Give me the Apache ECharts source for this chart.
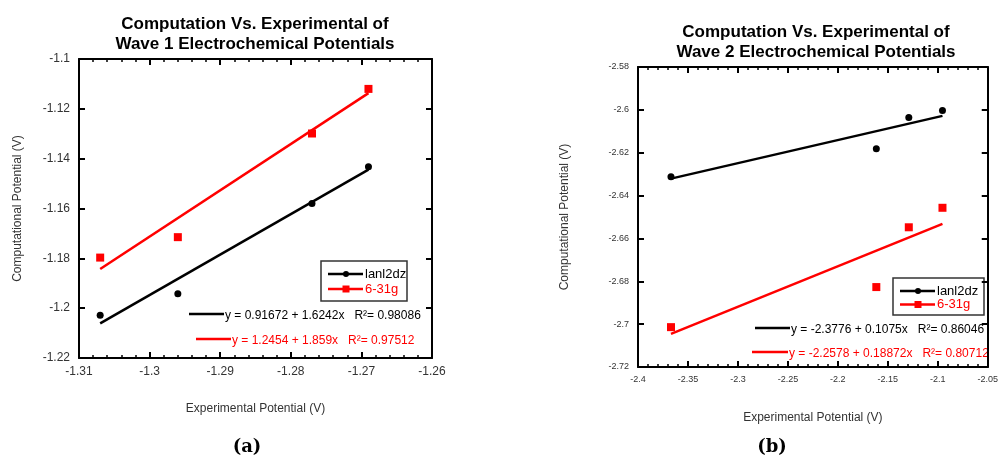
<!DOCTYPE html>
<html>
<head>
<meta charset="utf-8">
<script src="https://cdn.jsdelivr.net/npm/echarts@6/dist/echarts.min.js"></script>
<style>
  html, body { margin: 0; padding: 0; background: #fff; }
  #main { width: 1001px; height: 465px; }
</style>
</head>
<body>
<div id="main"></div>
<script>
// wave 1 data (panel a)
var wave1X = [-1.307, -1.296, -1.277, -1.269];
var wave1Lanl = [-1.2028, -1.1942, -1.158, -1.1432];
var wave1G631 = [-1.1797, -1.1715, -1.1299, -1.112];
var wave1FitX = [-1.307, -1.269];
var wave1FitLanl = [-1.2061, -1.1444];
var wave1FitG631 = [-1.1843, -1.1137];

// wave 2 data (panel b)
var wave2X = [-2.367, -2.1615, -2.129, -2.0953];
var wave2Lanl = [-2.6312, -2.6182, -2.6036, -2.6003];
var wave2G631 = [-2.7014, -2.6827, -2.6548, -2.6457];
var wave2FitX = [-2.367, -2.0953];
var wave2FitLanl = [-2.6321, -2.6028];
var wave2FitG631 = [-2.7045, -2.6532];

var eqText1 = ['y = 0.91672 + 1.6242x   R\u00b2= 0.98086', 'y = 1.2454 + 1.859x   R\u00b2= 0.97512'];
var eqText2 = ['y = -2.3776 + 0.1075x   R\u00b2= 0.86046', 'y = -2.2578 + 0.18872x   R\u00b2= 0.80712'];

var RED = '#ff0000';
var FONT = 'Liberation Sans, Arial, sans-serif';

function pairs(xs, ys) {
    var out = [];
    for (var i = 0; i < xs.length; i++) out.push([xs[i], ys[i]]);
    return out;
}

// x axis: bottom with labels, top with ticks only
function xAxes(grid, min, max, interval, fontSize) {
    var base = {
        gridIndex: grid, type: 'value', min: min, max: max, interval: interval,
        axisLine: { show: true, onZero: false, lineStyle: { color: '#000', width: 2 } },
        axisTick: { show: true, inside: true, length: 6, lineStyle: { color: '#000', width: 2 } },
        minorTick: { show: true, splitNumber: 5, length: 3, lineStyle: { color: '#000', width: 1.5 } },
        splitLine: { show: false }
    };
    var bottom = Object.assign({}, base, {
        position: 'bottom',
        name: 'Experimental Potential (V)', nameLocation: 'middle', nameGap: 45,
        nameTextStyle: { color: '#333', fontSize: 12, fontFamily: FONT },
        axisLabel: { color: '#333', fontSize: fontSize, fontFamily: FONT, margin: 8 }
    });
    var top = Object.assign({}, base, { position: 'top', axisLabel: { show: false } });
    return [bottom, top];
}

function yAxes(grid, min, max, interval, fontSize, nameGap) {
    var base = {
        gridIndex: grid, type: 'value', min: min, max: max, interval: interval,
        axisLine: { show: true, onZero: false, lineStyle: { color: '#000', width: 2 } },
        axisTick: { show: true, inside: true, length: 6, lineStyle: { color: '#000', width: 2 } },
        splitLine: { show: false }
    };
    var left = Object.assign({}, base, {
        position: 'left',
        name: 'Computational Potential (V)', nameLocation: 'middle', nameGap: nameGap,
        nameTextStyle: { color: '#333', fontSize: 12, fontFamily: FONT },
        axisLabel: { color: '#333', fontSize: fontSize, fontFamily: FONT, margin: 9 }
    });
    var right = Object.assign({}, base, { position: 'right', axisLabel: { show: false } });
    return [left, right];
}

function scatter(name, data, xi, yi, color, symbol, size) {
    return {
        name: name, type: 'scatter', xAxisIndex: xi, yAxisIndex: yi,
        data: data, symbol: symbol, symbolSize: size,
        itemStyle: { color: color, opacity: 1 }, z: 5
    };
}

function fit(data, xi, yi, color) {
    return {
        type: 'line', xAxisIndex: xi, yAxisIndex: yi, data: data,
        showSymbol: false, silent: true,
        lineStyle: { color: color, width: 2.5 }, z: 4
    };
}

// legend box + regression keys, drawn as plain graphics
function legendBox(x, y, w, h, rowGap) {
    var els = [{
        type: 'rect', shape: { x: x, y: y, width: w, height: h },
        style: { fill: '#fff', stroke: '#333', lineWidth: 1.5 }
    }];
    var names = ['lanl2dz', '6-31g'];
    var colors = ['#000', RED];
    for (var i = 0; i < 2; i++) {
        var cy = y + 13 + i * rowGap;
        els.push({ type: 'line', shape: { x1: x + 7, y1: cy, x2: x + 42, y2: cy },
            style: { stroke: colors[i], lineWidth: 2.5 } });
        if (i === 0) {
            els.push({ type: 'circle', shape: { cx: x + 25, cy: cy, r: 3 }, style: { fill: colors[i] } });
        } else {
            els.push({ type: 'rect', shape: { x: x + 21.5, y: cy - 3.5, width: 7, height: 7 }, style: { fill: colors[i] } });
        }
        els.push({ type: 'text', x: x + 44, y: cy,
            style: { text: names[i], fill: colors[i], font: '13px ' + FONT, textVerticalAlign: 'middle' } });
    }
    return els;
}

function eqKey(x1, x2, y, text, color) {
    return [
        { type: 'line', shape: { x1: x1, y1: y, x2: x2, y2: y }, style: { stroke: color, lineWidth: 2.5 } },
        { type: 'text', x: x2 + 1, y: y + 2,
            style: { text: text, fill: color, font: '12px ' + FONT, textVerticalAlign: 'middle' } }
    ];
}

var chart = echarts.init(document.getElementById('main'));

var graphics = []
    .concat(legendBox(321, 261, 86, 40, 15))
    .concat(eqKey(189, 224, 314, eqText1[0], '#000'))
    .concat(eqKey(196, 231, 339, eqText1[1], RED))
    .concat(legendBox(893, 278, 91, 37, 13.5))
    .concat(eqKey(755, 790, 328, eqText2[0], '#000'))
    .concat(eqKey(752, 788, 352, eqText2[1], RED))
    .concat([
        { type: 'text', x: 247, y: 447, style: { text: '(a)', fill: '#000', font: 'bold 18px DejaVu Serif, serif', textAlign: 'center', textVerticalAlign: 'middle' } },
        { type: 'text', x: 772, y: 447, style: { text: '(b)', fill: '#000', font: 'bold 18px DejaVu Serif, serif', textAlign: 'center', textVerticalAlign: 'middle' } }
    ]);

var xa = xAxes(0, -1.31, -1.26, 0.01, 12);
var xb = xAxes(1, -2.4, -2.05, 0.05, 9);
var ya = yAxes(0, -1.22, -1.1, 0.02, 12, 55);
var yb = yAxes(1, -2.72, -2.58, 0.02, 9, 67);

var option = {
    backgroundColor: '#fff',
    animation: false,
    title: [
        { text: 'Computation Vs. Experimental of\nWave 1 Electrochemical Potentials', left: 250, top: 9, textAlign: 'center',
          textStyle: { color: '#000', fontSize: 17, fontWeight: 'bold', fontFamily: FONT, lineHeight: 20 } },
        { text: 'Computation Vs. Experimental of\nWave 2 Electrochemical Potentials', left: 811, top: 17, textAlign: 'center',
          textStyle: { color: '#000', fontSize: 17, fontWeight: 'bold', fontFamily: FONT, lineHeight: 20 } }
    ],
    grid: [
        { left: 79, top: 59, width: 353, height: 299 },
        { left: 638, top: 67, width: 354, height: 300 }
    ],
    xAxis: [xa[0], xa[1], xb[0], xb[1]],
    yAxis: [ya[0], ya[1], yb[0], yb[1]],
    series: [
        fit(pairs(wave1FitX, wave1FitLanl), 0, 0, '#000'),
        fit(pairs(wave1FitX, wave1FitG631), 0, 0, RED),
        scatter('lanl2dz', pairs(wave1X, wave1Lanl), 0, 0, '#000', 'circle', 7),
        scatter('6-31g', pairs(wave1X, wave1G631), 0, 0, RED, 'rect', 8),
        fit(pairs(wave2FitX, wave2FitLanl), 2, 2, '#000'),
        fit(pairs(wave2FitX, wave2FitG631), 2, 2, RED),
        scatter('lanl2dz', pairs(wave2X, wave2Lanl), 2, 2, '#000', 'circle', 7),
        scatter('6-31g', pairs(wave2X, wave2G631), 2, 2, RED, 'rect', 8)
    ],
    graphic: graphics
};

chart.setOption(option);
window.onresize = function () { chart.resize(); };
</script>
</body>
</html>
